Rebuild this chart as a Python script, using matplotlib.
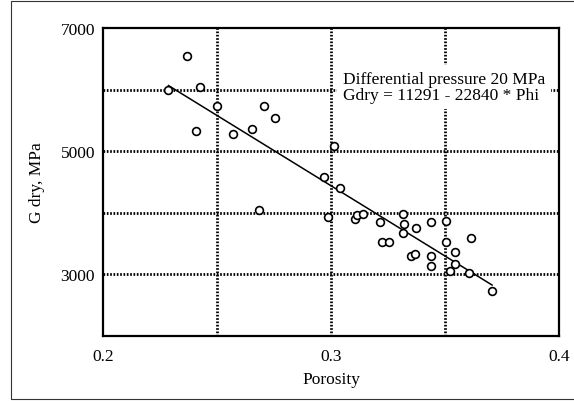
import numpy as np
import matplotlib.pyplot as plt
from matplotlib.patches import Rectangle

plt.rcParams['font.family'] = ['Liberation Serif', 'DejaVu Serif']

# data
porosity = [0.2286, 0.2369, 0.2424, 0.2408, 0.2501, 0.2568, 0.2653, 0.2706, 0.2753,
            0.2684, 0.3013, 0.2968, 0.3037, 0.2984, 0.3104, 0.3114, 0.3138, 0.3213,
            0.3221, 0.3254, 0.3313, 0.3321, 0.3313, 0.3374, 0.3352, 0.3368, 0.3437,
            0.3504, 0.3437, 0.3437, 0.3504, 0.3544, 0.3544, 0.3520, 0.3613, 0.3604,
            0.3706]
gdry = [5994, 6556, 6048, 5339, 5739, 5285, 5371, 5739, 5544, 4040, 5090, 4581,
        4408, 3926, 3894, 3959, 3986, 3845, 3531, 3531, 3986, 3813, 3667, 3759,
        3304, 3326, 3845, 3867, 3304, 3131, 3531, 3358, 3163, 3050, 3586, 3017,
        2736]

# fit: Gdry = 11291 - 22840 * Phi
intercept = 11291
slope = -22840
fit_range = [0.2286, 0.3706]

x_ticks = [0.2, 0.3, 0.4]
x_ticklabels = ['0.2', '0.3', '0.4']
y_ticks = [3000, 5000, 7000]
x_grid = [0.25, 0.3, 0.35]
y_grid = [3000, 4000, 5000, 6000]

fig = plt.figure(figsize=(5.74, 4.02), dpi=100)
ax = fig.add_axes([0.180, 0.162, 0.794, 0.765])

for xg in x_grid:
    ax.axvline(xg, color='k', lw=2.0, ls=(0, (0.6, 0.6)), zorder=1)
for yg in y_grid:
    ax.axhline(yg, color='k', lw=2.0, ls=(0, (0.6, 0.6)), zorder=1)

fx = np.array(fit_range)
ax.plot(fx, intercept + slope * fx, color='k', lw=1.1, zorder=3)
ax.plot(porosity, gdry, 'o', mfc='white', mec='k', ms=5.6, mew=1.2, zorder=4)

ax.text(0.3051, 6300, 'Differential pressure 20 MPa\nGdry = 11291 - 22840 * Phi',
        fontsize=12.5, ha='left', va='top', linespacing=0.98, zorder=2,
        bbox=dict(boxstyle='square,pad=0.35', facecolor='white', edgecolor='none'))

ax.set_xlim(0.2, 0.4)
ax.set_ylim(2000, 7000)
ax.set_xticks(x_ticks)
ax.set_xticklabels(x_ticklabels)
ax.set_yticks(y_ticks)
ax.tick_params(length=0, labelsize=12.5)
ax.tick_params(axis='x', pad=8.5)
ax.tick_params(axis='y', pad=6)
for s in ax.spines.values():
    s.set_linewidth(1.6)

ax.set_xlabel('Porosity', fontsize=12.5, labelpad=5)
ax.set_ylabel('G dry, MPa', fontsize=12.5, labelpad=11)

fig.add_artist(Rectangle((11 / 574, 2 / 402), 1.2, 398 / 402, transform=fig.transFigure,
                         fill=False, lw=0.8, edgecolor='#333333', clip_on=False))

fig.savefig('out.png', dpi=100)
